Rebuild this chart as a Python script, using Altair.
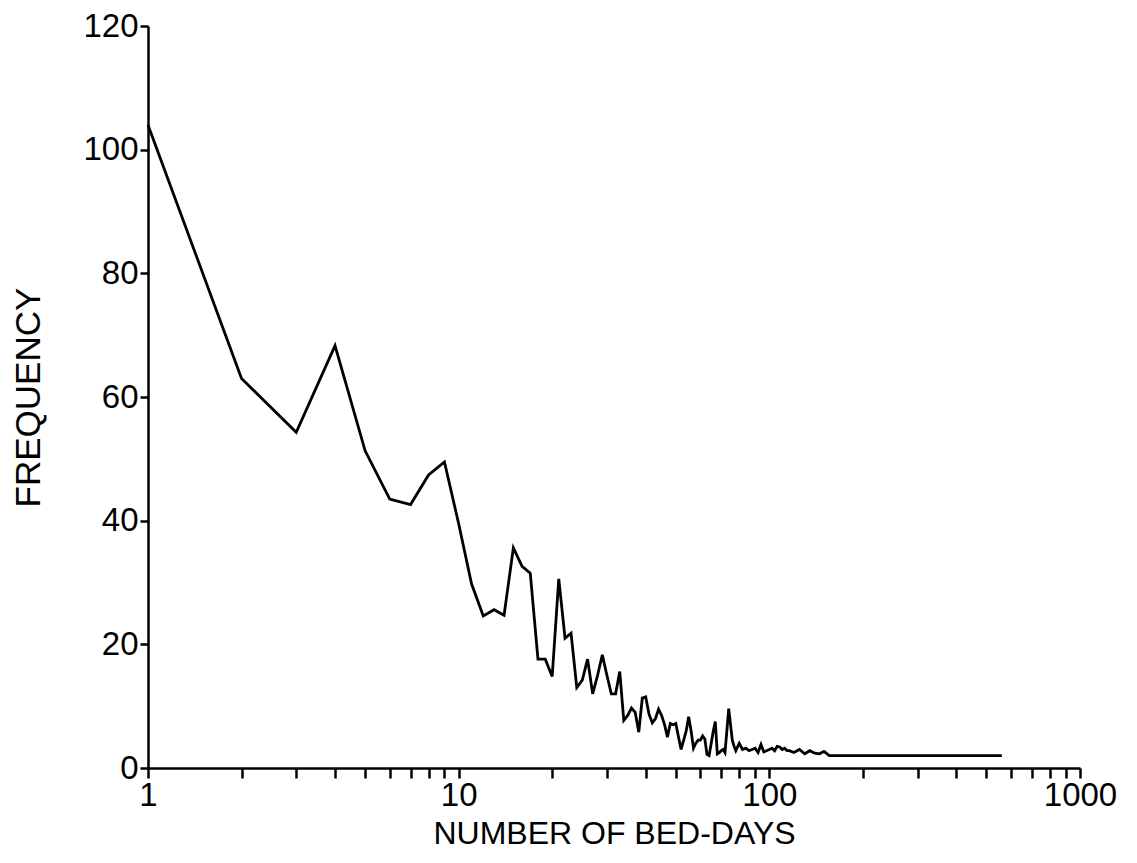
import altair as alt
import pandas as pd

bed_days = [1, 2, 3, 4, 5, 6, 7, 8, 9, 10, 11, 12, 13, 14, 15, 16, 17, 18, 19, 20,
            21, 22, 23, 24, 25, 26, 27, 28, 29, 30, 31, 32, 33, 34, 35, 36, 37, 38, 39, 40,
            41, 42, 43, 44, 45, 46, 47, 48, 49, 50, 51, 52, 53, 54, 55, 56, 57, 58, 59, 60,
            61, 62, 63, 64, 65, 66, 67, 68, 69, 70, 71, 72, 73, 74, 75, 76, 77, 78, 80, 82,
            84, 86, 88, 90, 92, 94, 96, 98, 100, 102, 104, 106, 108, 110, 112, 114, 116, 120,
            125, 130, 135, 140, 145, 150, 156, 560]
frequency = [104, 63, 54.3, 68.3, 51.3, 43.5, 42.6, 47.4, 49.5, 39.5, 29.8, 24.6, 25.6, 24.7, 35.6, 32.6, 31.5, 17.6, 17.6, 14.8,
             30.6, 21, 21.8, 13, 14.2, 17.6, 12, 15, 18.3, 15, 12, 12, 15.6, 7.7, 8.5, 9.7, 9, 5.8, 11.3, 11.5,
             8.7, 7.3, 8, 9.5, 8.5, 7, 5, 7.2, 7, 7.2, 5, 3, 4.5, 6, 8.3, 6, 3.2, 4, 4.5, 4.5,
             5.2, 4.7, 2.2, 2, 4, 6, 7.5, 2.3, 2.5, 2.8, 3, 2.5, 6, 9.6, 7, 4.5, 3.5, 2.8, 4, 3,
             3.2, 2.8, 3, 3.2, 2.5, 3.8, 2.6, 2.8, 3, 3.2, 2.8, 3.5, 3.4, 3, 3.2, 2.8, 2.8, 2.5,
             3, 2.3, 2.8, 2.4, 2.3, 2.7, 2, 2]

x_ticks = [1, 2, 3, 4, 5, 6, 7, 8, 9, 10, 20, 30, 40, 50, 60, 70, 80, 90,
           100, 200, 300, 400, 500, 600, 700, 800, 900, 1000]
y_ticks = [0, 20, 40, 60, 80, 100, 120]

df = pd.DataFrame({"days": bed_days, "freq": frequency})

FONT = "Liberation Sans, Arial, Helvetica, sans-serif"

chart = alt.Chart(df).mark_line(color="black", strokeWidth=2.8).encode(
    x=alt.X("days:Q",
            scale=alt.Scale(type="log", domain=[1, 1000], nice=False),
            axis=alt.Axis(values=x_ticks,
                          labelExpr="(datum.value==1||datum.value==10||datum.value==100||datum.value==1000) ? datum.label : ''",
                          format="d",
                          title="NUMBER OF BED-DAYS",
                          grid=False, tickSize=10, tickWidth=2.5, domainWidth=2.5,
                          domainColor="black", tickColor="black",
                          labelFontSize=33, labelColor="black", labelFont=FONT,
                          labelPadding=1, labelFlush=False, labelOverlap=False,
                          titleFontSize=32, titleFont=FONT, titleColor="black",
                          titleFontWeight="normal", titleY=65, titleBaseline="middle")),
    y=alt.Y("freq:Q",
            scale=alt.Scale(domain=[0, 120], nice=False),
            axis=alt.Axis(values=y_ticks, title="FREQUENCY",
                          grid=False, tickSize=8, tickWidth=2.5, domainWidth=2.5,
                          domainColor="black", tickColor="black",
                          labelFontSize=33, labelColor="black", labelFont=FONT,
                          labelPadding=2, labelFlush=False,
                          titleFontSize=35, titleFont=FONT, titleColor="black",
                          titleFontWeight="normal", titleX=-120, titleBaseline="middle")),
).properties(
    width=932, height=742,
    padding={"left": 140, "top": 18, "right": 40, "bottom": 87},
    autosize=alt.AutoSizeParams(type="none"),
).configure_view(stroke=None)

chart.save("out.html", embed_options={"renderer": "svg", "actions": False})
